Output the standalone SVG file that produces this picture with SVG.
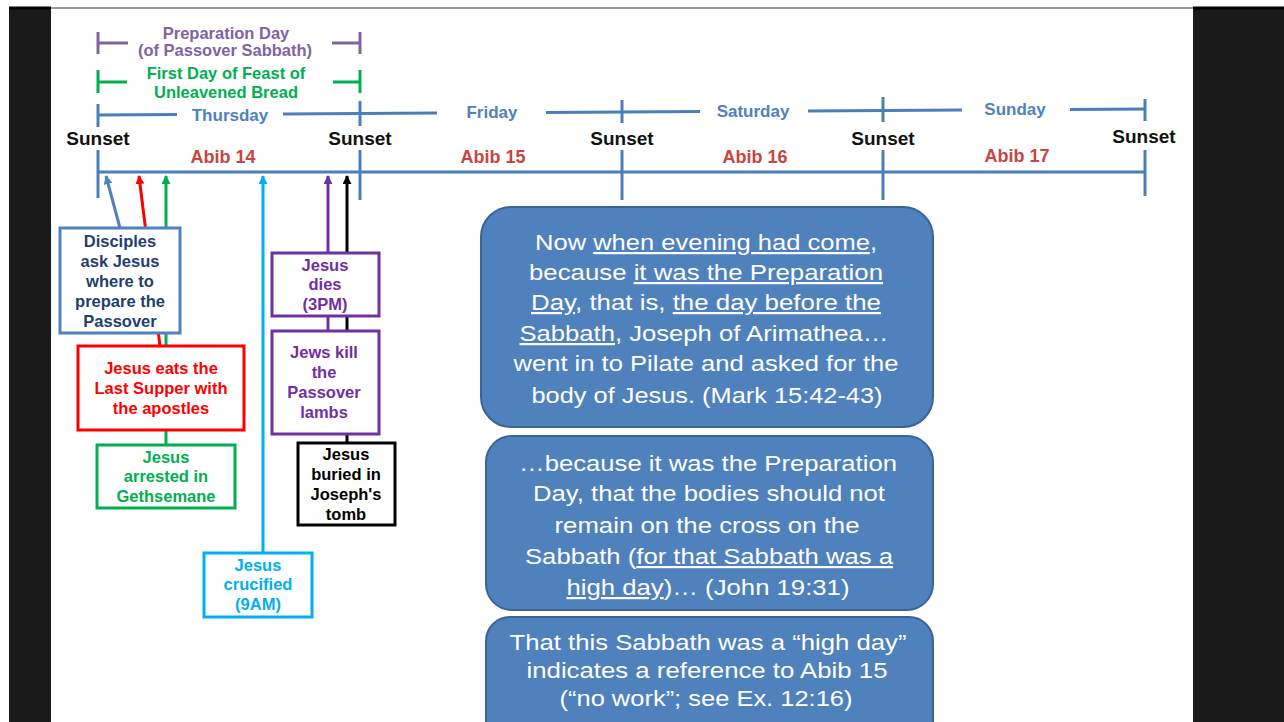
<svg xmlns="http://www.w3.org/2000/svg" width="1284" height="722" viewBox="0 0 1284 722">
<defs>
<style>
.tl{stroke:#4a7ebb;stroke-width:3;fill:none}
.sun{font-family:"Liberation Sans",Arial,sans-serif;font-weight:bold;font-size:19px;fill:#111;text-anchor:middle}
.abib{font-family:"Liberation Sans",Arial,sans-serif;font-weight:bold;font-size:18px;fill:#c9453f;text-anchor:middle}
.day{font-family:"Liberation Sans",Arial,sans-serif;font-weight:bold;font-size:17px;fill:#4f81bd;text-anchor:middle}
.top{font-family:"Liberation Sans",Arial,sans-serif;font-weight:bold;font-size:16.5px;text-anchor:middle}
.lbl{font-family:"Liberation Sans",Arial,sans-serif;font-weight:bold;font-size:16.5px;text-anchor:middle}
.box{fill:#fff;stroke-width:3}
.big{fill:#4f81bd;stroke:#3a6496;stroke-width:2}
.bt{font-family:"Liberation Sans",Arial,sans-serif;font-size:22px;fill:#fff;text-anchor:middle}
.u{text-decoration:underline}
.ar{stroke-width:3;fill:none}
</style>
<marker id="mb" viewBox="0 0 10 10" refX="9" refY="5" markerWidth="9" markerHeight="9" markerUnits="userSpaceOnUse" orient="auto"><path d="M0,0 L10,5 L0,10 z" fill="#4f81bd"/></marker>
<marker id="mr" viewBox="0 0 10 10" refX="9" refY="5" markerWidth="9" markerHeight="9" markerUnits="userSpaceOnUse" orient="auto"><path d="M0,0 L10,5 L0,10 z" fill="#ff0000"/></marker>
<marker id="mg" viewBox="0 0 10 10" refX="9" refY="5" markerWidth="9" markerHeight="9" markerUnits="userSpaceOnUse" orient="auto"><path d="M0,0 L10,5 L0,10 z" fill="#00b050"/></marker>
<marker id="mc" viewBox="0 0 10 10" refX="9" refY="5" markerWidth="9" markerHeight="9" markerUnits="userSpaceOnUse" orient="auto"><path d="M0,0 L10,5 L0,10 z" fill="#00b0f0"/></marker>
<marker id="mp" viewBox="0 0 10 10" refX="9" refY="5" markerWidth="9" markerHeight="9" markerUnits="userSpaceOnUse" orient="auto"><path d="M0,0 L10,5 L0,10 z" fill="#7030a0"/></marker>
<marker id="mk" viewBox="0 0 10 10" refX="9" refY="5" markerWidth="9" markerHeight="9" markerUnits="userSpaceOnUse" orient="auto"><path d="M0,0 L10,5 L0,10 z" fill="#000"/></marker>
</defs>

<g id="background">
<rect x="0" y="0" width="1284" height="722" fill="#fff"/>
<rect x="9" y="7" width="42" height="715" fill="#1a1a1a"/>
<rect x="1193" y="7" width="91" height="715" fill="#1a1a1a"/>
<line x1="9" y1="8" x2="51" y2="8" stroke="#000" stroke-width="3"/>
<line x1="1193" y1="8" x2="1284" y2="8" stroke="#000" stroke-width="3"/>
<line x1="51" y1="8" x2="1193" y2="8" stroke="#999" stroke-width="2"/>
</g>

<g id="timeline">
<line class="tl" x1="98" y1="172" x2="1145" y2="172"/>
<line class="tl" x1="98" y1="150" x2="98" y2="198"/>
<line class="tl" x1="360" y1="150" x2="360" y2="200"/>
<line class="tl" x1="622" y1="150" x2="622" y2="200"/>
<line class="tl" x1="883" y1="150" x2="883" y2="200"/>
<line class="tl" x1="1145" y1="150" x2="1145" y2="196"/>
<line class="tl" x1="98" y1="115" x2="177" y2="114.5"/>
<line class="tl" x1="283" y1="113.9" x2="437" y2="113.1"/>
<line class="tl" x1="546" y1="112.4" x2="700" y2="111.6"/>
<line class="tl" x1="808" y1="110.9" x2="962" y2="110"/>
<line class="tl" x1="1070" y1="109.4" x2="1145" y2="109"/>
<line class="tl" x1="98" y1="104" x2="98" y2="127"/>
<line class="tl" x1="360" y1="101" x2="360" y2="126"/>
<line class="tl" x1="622" y1="100" x2="622" y2="123"/>
<line class="tl" x1="883" y1="97" x2="883" y2="122"/>
<line class="tl" x1="1145" y1="99" x2="1145" y2="121"/>
<text class="day" x="230" y="121">Thursday</text>
<text class="day" x="492" y="118">Friday</text>
<text class="day" x="753" y="117">Saturday</text>
<text class="day" x="1015" y="115">Sunday</text>
<text class="sun" x="98" y="145">Sunset</text>
<text class="sun" x="360" y="145">Sunset</text>
<text class="sun" x="622" y="145">Sunset</text>
<text class="sun" x="883" y="145">Sunset</text>
<text class="sun" x="1144" y="143">Sunset</text>
<text class="abib" x="223" y="163">Abib 14</text>
<text class="abib" x="493" y="163">Abib 15</text>
<text class="abib" x="755" y="163">Abib 16</text>
<text class="abib" x="1017" y="162">Abib 17</text>
</g>

<g id="top-brackets">
<g stroke="#8064a2" stroke-width="3" fill="none">
<line x1="98" y1="32" x2="98" y2="54"/><line x1="98" y1="43" x2="128" y2="43"/>
<line x1="332" y1="43" x2="360" y2="43"/><line x1="360" y1="32" x2="360" y2="54"/>
</g>
<g stroke="#00b050" stroke-width="3" fill="none">
<line x1="98" y1="70" x2="98" y2="93"/><line x1="98" y1="82" x2="127" y2="82"/>
<line x1="333" y1="82" x2="360" y2="82"/><line x1="360" y1="70" x2="360" y2="93"/>
</g>
<text class="top" x="226" y="39" fill="#8064a2">Preparation Day</text>
<text class="top" x="225" y="56" fill="#8064a2">(of Passover Sabbath)</text>
<text class="top" x="226" y="79" fill="#00b050">First Day of Feast of</text>
<text class="top" x="226" y="98" fill="#00b050">Unleavened Bread</text>
</g>

<g id="connectors">
<line class="ar" stroke="#4f81bd" x1="120" y1="228" x2="106" y2="176" marker-end="url(#mb)"/>
<line class="ar" stroke="#ff0000" x1="160" y1="346" x2="139" y2="176" marker-end="url(#mr)"/>
<line class="ar" stroke="#00b050" x1="166" y1="445" x2="166" y2="176" marker-end="url(#mg)"/>
<line class="ar" stroke="#00b0f0" x1="263" y1="553" x2="263" y2="176" marker-end="url(#mc)"/>
<line class="ar" stroke="#7030a0" x1="328" y1="331" x2="328" y2="176" marker-end="url(#mp)"/>
<line class="ar" stroke="#000" x1="347" y1="443" x2="347" y2="176" marker-end="url(#mk)"/>
</g>

<g id="disciples">
<rect class="box" x="60" y="228" width="120" height="105" stroke="#4f81bd"/>
<g class="lbl" fill="#1f3f6e">
<text x="120" y="247">Disciples</text>
<text x="120" y="267">ask Jesus</text>
<text x="120" y="287">where to</text>
<text x="120" y="307">prepare the</text>
<text x="120" y="327">Passover</text>
</g>
</g>

<g id="last-supper">
<rect class="box" x="78" y="346" width="166" height="84" stroke="#ff0000"/>
<g class="lbl" fill="#ff0000">
<text x="161" y="374">Jesus eats the</text>
<text x="161" y="394">Last Supper with</text>
<text x="161" y="414">the apostles</text>
</g>
</g>

<g id="arrested">
<rect class="box" x="97" y="445" width="138" height="63" stroke="#00b050"/>
<g class="lbl" fill="#00b050">
<text x="166" y="463">Jesus</text>
<text x="166" y="482">arrested in</text>
<text x="166" y="502">Gethsemane</text>
</g>
</g>

<g id="crucified">
<rect class="box" x="204" y="553" width="108" height="64" stroke="#00b0f0"/>
<g class="lbl" fill="#00b0f0">
<text x="258" y="571">Jesus</text>
<text x="258" y="590">crucified</text>
<text x="258" y="610">(9AM)</text>
</g>
</g>

<g id="dies">
<rect class="box" x="272" y="253" width="107" height="63" stroke="#7030a0"/>
<g class="lbl" fill="#7030a0">
<text x="325" y="271">Jesus</text>
<text x="325" y="290">dies</text>
<text x="325" y="310">(3PM)</text>
</g>
</g>

<g id="lambs">
<rect class="box" x="272" y="331" width="107" height="103" stroke="#7030a0"/>
<g class="lbl" fill="#7030a0">
<text x="324" y="358">Jews kill</text>
<text x="324" y="378">the</text>
<text x="324" y="398">Passover</text>
<text x="324" y="418">lambs</text>
</g>
</g>

<g id="buried">
<rect class="box" x="298" y="443" width="97" height="82" stroke="#000"/>
<g class="lbl" fill="#000">
<text x="346" y="460">Jesus</text>
<text x="346" y="480">buried in</text>
<text x="346" y="500">Joseph's</text>
<text x="346" y="520">tomb</text>
</g>
</g>

<g id="mark-quote">
<rect class="big" x="481" y="207" width="452" height="220" rx="30" ry="30"/>
<text class="bt" x="706" y="250" textLength="342" lengthAdjust="spacingAndGlyphs">Now <tspan class="u">when evening had come</tspan>,</text>
<text class="bt" x="706" y="280" textLength="354" lengthAdjust="spacingAndGlyphs">because <tspan class="u">it was the Preparation</tspan></text>
<text class="bt" x="706" y="310" textLength="350" lengthAdjust="spacingAndGlyphs"><tspan class="u">Day</tspan>, that is, <tspan class="u">the day before the</tspan></text>
<text class="bt" x="704" y="341" textLength="369" lengthAdjust="spacingAndGlyphs"><tspan class="u">Sabbath</tspan>, Joseph of Arimathea…</text>
<text class="bt" x="706" y="371" textLength="385" lengthAdjust="spacingAndGlyphs">went in to Pilate and asked for the</text>
<text class="bt" x="707" y="403" textLength="351" lengthAdjust="spacingAndGlyphs">body of Jesus. (Mark 15:42-43)</text>
</g>

<g id="john-quote">
<rect class="big" x="486" y="436" width="447" height="174" rx="26" ry="26"/>
<text class="bt" x="708" y="471" textLength="378" lengthAdjust="spacingAndGlyphs">…because it was the Preparation</text>
<text class="bt" x="709" y="501" textLength="352" lengthAdjust="spacingAndGlyphs">Day, that the bodies should not</text>
<text class="bt" x="707" y="533" textLength="305" lengthAdjust="spacingAndGlyphs">remain on the cross on the</text>
<text class="bt" x="709" y="564" textLength="368" lengthAdjust="spacingAndGlyphs">Sabbath (<tspan class="u">for that Sabbath was a</tspan></text>
<text class="bt" x="708" y="595" textLength="283" lengthAdjust="spacingAndGlyphs"><tspan class="u">high day</tspan>)… (John 19:31)</text>
</g>

<g id="high-day-note">
<rect class="big" x="486" y="617" width="447" height="130" rx="24" ry="24"/>
<text class="bt" x="708" y="650" textLength="397" lengthAdjust="spacingAndGlyphs">That this Sabbath was a “high day”</text>
<text class="bt" x="707" y="678" textLength="361" lengthAdjust="spacingAndGlyphs">indicates a reference to Abib 15</text>
<text class="bt" x="706" y="706" textLength="293" lengthAdjust="spacingAndGlyphs">(“no work”; see Ex. 12:16)</text>
</g>
</svg>
